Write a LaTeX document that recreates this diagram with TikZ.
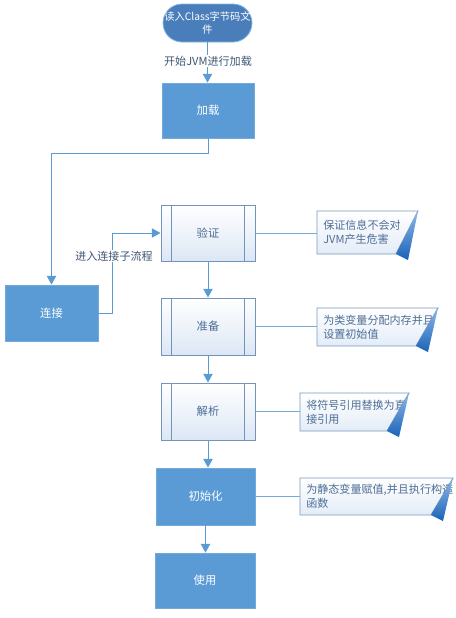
\documentclass[tikz,border=0pt]{standalone}
\usepackage{fontspec}
\setmainfont{Noto Sans CJK SC}
\usetikzlibrary{arrows.meta,calc}
\newdimen\pxu \pxu=0.75pt
\pgfdeclarelayer{bg}\pgfsetlayers{bg,main}
\definecolor{boxblue}{HTML}{5B9BD5}
\definecolor{termblue}{HTML}{4A7EBB}
\definecolor{linecol}{HTML}{5B9BD5}
\definecolor{subborder}{HTML}{7393BD}
\definecolor{subtext}{HTML}{4E6E96}
\definecolor{subfill}{HTML}{DCE7F4}
\definecolor{labeltext}{HTML}{3F5775}
\definecolor{noteborder}{HTML}{7B98BD}
\definecolor{notefill}{HTML}{E3ECF7}
\definecolor{notedark}{HTML}{1A63B8}
\definecolor{notelight}{HTML}{8DB8E8}
\tikzset{
  fillbox/.style={rectangle, fill=boxblue, draw=boxblue!85!white, line width=0.6pt,
    text=white, font=\fontsize{8.5}{10}\selectfont, inner sep=0pt},
  termbox/.style={rectangle, rounded corners=19\pxu, fill=termblue, draw=boxblue!75!white,
    line width=0.6pt, text=white, align=center, font=\fontsize{7.7}{9.6}\selectfont, inner sep=0pt},
  subbox/.style={rectangle, draw=subborder, line width=0.75pt, top color=white,
    bottom color=subfill, text=subtext, font=\fontsize{8.5}{10}\selectfont, inner sep=0pt},
  subline/.style={draw=subborder, line width=0.75pt},
  conn/.style={draw=linecol, line width=0.75pt, -{Triangle[length=6.5pt,width=7pt]}},
  noteconn/.style={draw=linecol!85!white, line width=0.75pt},
  lbl/.style={fill=white, text=labeltext, font=\fontsize{8.3}{10}\selectfont, inner sep=1pt},
  notetext/.style={text=subtext, align=left, font=\fontsize{8.3}{10.5}\selectfont,
    inner xsep=6\pxu, inner ysep=0pt},
  notebg/.style={top color=white, bottom color=notefill, draw=noteborder, line width=0.7pt},
  notecurl/.style={top color=notelight, bottom color=notedark}
}
\newcommand\notebox[6]{%
  \begin{pgfonlayer}{bg}
    \shade[notebg] (#2,#3) -- (#4,#3) -- (#4-22,#5) -- (#2,#5) -- cycle;
  \end{pgfonlayer}
  \node[notetext, anchor=west] (#1) at (#2,{(#3+#5)/2}) {#6};
  \shade[notecurl] (#4,#3) -- (#4-22,#5) -- (#4-10,#5+6) -- cycle;
}
\newcommand\sublines[1]{%
  \draw[subline] ([xshift=11\pxu]#1.north west) -- ([xshift=11\pxu]#1.south west);
  \draw[subline] ([xshift=-11\pxu]#1.north east) -- ([xshift=-11\pxu]#1.south east);
}
\begin{document}
\begin{tikzpicture}[x=\pxu, y=-\pxu]
\useasboundingbox (0,0) rectangle (456,618);
% nodes
\node[termbox, minimum width=89\pxu, minimum height=38\pxu] (start) at (207.5,23) {读入Class字节码文\\件};
\node[fillbox, minimum width=92\pxu, minimum height=55\pxu] (load) at (208,110.5) {加载};
\node[fillbox, minimum width=93\pxu, minimum height=56\pxu] (link) at (51.5,313) {连接};
\node[subbox, minimum width=94\pxu, minimum height=56\pxu] (verify) at (208,233) {验证};
\node[subbox, minimum width=94\pxu, minimum height=57\pxu] (prep) at (208,326.5) {准备};
\node[subbox, minimum width=94\pxu, minimum height=57\pxu] (resolve) at (208,411.5) {解析};
\node[fillbox, minimum width=99\pxu, minimum height=57\pxu] (init) at (205.5,496.5) {初始化};
\node[fillbox, minimum width=100\pxu, minimum height=55\pxu] (use) at (205,580.5) {使用};
\sublines{verify}
\sublines{prep}
\sublines{resolve}
% notes
\notebox{n1}{317}{211}{418}{254}{保证信息不会对\\JVM产生危害}
\notebox{n2}{317}{308}{438}{346}{为类变量分配内存并且\\设置初始值}
\notebox{n3}{300}{393}{409}{431}{将符号引用替换为直\\接引用}
\notebox{n4}{300}{478}{453}{515}{为静态变量赋值,并且执行构造\\函数}
% connectors
\draw[conn] (start.south) -- (start.south |- load.north);
\node[lbl] (lab1) at (208,61) {开始JVM进行加载};
\draw[conn] (load.south) -- ++(0,15) -| (link.north);
\draw[conn] (link.east) -- ++(14,0) |- (verify.west);
\node[lbl] (lab2) at (114,256) {进入连接子流程};
\draw[conn] (verify.south) -- (prep.north);
\draw[conn] (prep.south) -- (resolve.north);
\draw[conn] (resolve.south) -- (resolve.south |- init.north);
\draw[conn] (init.south) -- (init.south |- use.north);
\draw[noteconn] (verify.east) -- (verify.east -| n1.west);
\draw[noteconn] (prep.east) -- (prep.east -| n2.west);
\draw[noteconn] (resolve.east) -- (resolve.east -| n3.west);
\draw[noteconn] (init.east) -- (init.east -| n4.west);
\end{tikzpicture}
\end{document}
